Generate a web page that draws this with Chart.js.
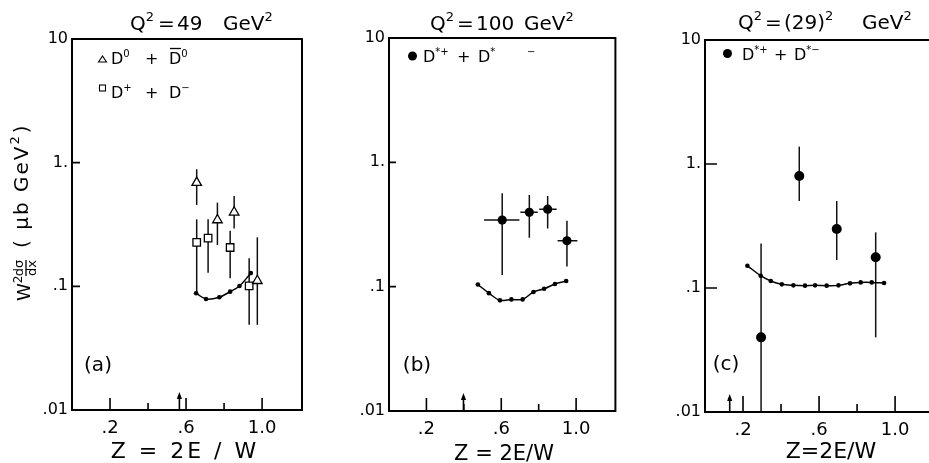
<!DOCTYPE html>
<html lang="en">
  <head>
    <meta charset="UTF-8" />
    <title>D meson cross sections vs Z</title>
    <style>
      * {
        margin: 0;
        padding: 0;
        box-sizing: border-box;
      }
      body {
        width: 929px;
        height: 463px;
        background: #fff;
        overflow: hidden;
        position: relative;
      }
      .panel {
        position: absolute;
        top: 0;
        height: 463px;
      }
    </style>
  </head>
  <body>
    <div class="panel" style="left: 0; width: 310px">
      <canvas id="chartA" width="310" height="463"></canvas>
    </div>
    <div class="panel" style="left: 310px; width: 310px">
      <canvas id="chartB" width="310" height="463"></canvas>
    </div>
    <div class="panel" style="left: 620px; width: 320px">
      <canvas id="chartC" width="320" height="463"></canvas>
    </div>

    <script src="https://cdn.jsdelivr.net/npm/chart.js"></script>

    <script>
      const FONT = '"DejaVu Sans", sans-serif';

      // axes
      const xTicks = [0.2, 0.4, 0.6, 0.8, 1.0];
      const xTickLabels = [".2", "", ".6", "", "1.0"];
      const yTicks = [0.01, 0.1, 1, 10];
      const yTickLabels = [".01", ".1", "1.", "10"];

      // (a) Q^2 = 49 GeV^2
      const zA_D0 = [0.656, 0.765, 0.853, 0.975];
      const yA_D0 = [0.69, 0.344, 0.397, 0.111];
      const yA_D0_lo = [0.455, 0.216, 0.294, 0.0488];
      const yA_D0_hi = [0.885, 0.475, 0.538, 0.249];
      const zA_Dp = [0.656, 0.716, 0.832, 0.932];
      const yA_Dp = [0.227, 0.245, 0.206, 0.101];
      const yA_Dp_lo = [0.088, 0.129, 0.116, 0.0488];
      const yA_Dp_hi = [0.348, 0.348, 0.282, 0.169];
      const zA_fit = [0.653, 0.705, 0.775, 0.832, 0.881, 0.941];
      const yA_fit = [0.088, 0.079, 0.0817, 0.0906, 0.1007, 0.128];

      // (b) Q^2 = 100 GeV^2
      const zB = [0.605, 0.75, 0.848, 0.951];
      const yB = [0.343, 0.396, 0.42, 0.234];
      const yB_lo = [0.124, 0.247, 0.294, 0.145];
      const yB_hi = [0.564, 0.546, 0.536, 0.339];
      const zB_lo = [0.508, 0.702, 0.803, 0.901];
      const zB_hi = [0.697, 0.795, 0.896, 1.007];
      const zB_fit = [0.475, 0.534, 0.593, 0.654, 0.714, 0.772, 0.829, 0.887, 0.947];
      const yB_fit = [0.104, 0.0887, 0.0776, 0.079, 0.079, 0.0906, 0.0962, 0.105, 0.111];

      // (c) Q^2 = (29)^2 GeV^2
      const zC = [0.295, 0.496, 0.693, 0.898];
      const yC = [0.04, 0.8, 0.299, 0.177];
      const yC_lo = [0.01, 0.503, 0.168, 0.04];
      const yC_hi = [0.229, 1.38, 0.503, 0.281];
      const zC_fit = [0.223, 0.293, 0.346, 0.404, 0.465, 0.526, 0.579, 0.64, 0.702, 0.763, 0.819, 0.877, 0.942];
      const yC_fit = [0.151, 0.1256, 0.1138, 0.107, 0.105, 0.1045, 0.105, 0.1045, 0.105, 0.109, 0.111, 0.111, 0.1097];

      // threshold arrows on the Z axis
      const arrowZ = [0.565, 0.398, 0.13];

      function pts(xs, ys) {
        return xs.map((x, i) => ({ x: x, y: ys[i] }));
      }

      // text run with superscripts; parts: {t, sup, at}
      function rich(ctx, x, y, parts, size) {
        ctx.textAlign = "left";
        ctx.textBaseline = "alphabetic";
        parts.forEach((p) => {
          if (p.at !== undefined) x = p.at;
          const s = p.sup ? Math.round(size * 0.64) : size;
          ctx.font = s + "px " + FONT;
          ctx.fillText(p.t, x, p.sup ? y - size * 0.45 : y);
          x += ctx.measureText(p.t).width + (p.sup ? 1 : 0);
        });
      }

      const errorBars = {
        id: "errorBars",
        beforeDatasetsDraw(chart) {
          const {
            ctx,
            scales: { x, y },
          } = chart;
          ctx.save();
          ctx.strokeStyle = "#111";
          ctx.lineWidth = 1.5;
          chart.data.datasets.forEach((ds) => {
            if (!ds.err) return;
            ds.data.forEach((p, i) => {
              const px = x.getPixelForValue(p.x);
              const py = y.getPixelForValue(p.y);
              ctx.beginPath();
              ctx.moveTo(px, y.getPixelForValue(ds.err.lo[i]));
              ctx.lineTo(px, y.getPixelForValue(ds.err.hi[i]));
              if (ds.err.xlo) {
                ctx.moveTo(x.getPixelForValue(ds.err.xlo[i]), py);
                ctx.lineTo(x.getPixelForValue(ds.err.xhi[i]), py);
              }
              ctx.stroke();
            });
          });
          ctx.restore();
        },
      };

      function decor(p) {
        return {
          id: "decor",
          afterDraw(chart) {
            const {
              ctx,
              chartArea: { left, right, top, bottom },
              scales: { x, y },
            } = chart;
            ctx.save();
            ctx.strokeStyle = "#000";
            ctx.fillStyle = "#000";
            ctx.lineWidth = 2;
            ctx.strokeRect(left, top, right - left, bottom - top);

            // inner tick marks
            ctx.lineWidth = 1.6;
            ctx.beginPath();
            [0.1, 1].forEach((v) => {
              const py = y.getPixelForValue(v);
              ctx.moveTo(left, py);
              ctx.lineTo(left + p.yTick, py);
            });
            xTicks.forEach((v, i) => {
              const px = x.getPixelForValue(v);
              const len = xTickLabels[i] ? p.xMajor : p.xMinor;
              ctx.moveTo(px, bottom);
              ctx.lineTo(px, bottom - len);
            });
            ctx.stroke();

            // arrow
            const ax = x.getPixelForValue(p.arrow);
            ctx.beginPath();
            ctx.moveTo(ax, bottom);
            ctx.lineTo(ax, bottom - 12);
            ctx.stroke();
            ctx.beginPath();
            ctx.moveTo(ax - 2.6, bottom - 11);
            ctx.lineTo(ax, bottom - 18);
            ctx.lineTo(ax + 2.6, bottom - 11);
            ctx.closePath();
            ctx.fill();

            // texts in page coordinates
            ctx.translate(-p.off, 0);
            p.text(ctx);
            ctx.restore();
          },
        };
      }

      function makeChart(id, datasets, p) {
        return new Chart(document.getElementById(id), {
          type: "scatter",
          data: { datasets: datasets },
          options: {
            responsive: false,
            animation: false,
            events: [],
            layout: { padding: p.pad },
            plugins: { legend: { display: false }, tooltip: { enabled: false } },
            scales: {
              x: {
                type: "linear",
                min: 0,
                max: 1.21,
                grid: { display: false, drawTicks: false },
                border: { display: false },
                afterBuildTicks: (scale) => {
                  scale.ticks = xTicks.map((v) => ({ value: v }));
                },
                afterFit: (scale) => {
                  scale.height = 30;
                },
                ticks: {
                  autoSkip: false,
                  maxRotation: 0,
                  padding: 8,
                  color: "#000",
                  font: { family: FONT, size: 18 },
                  callback: (v) => xTickLabels[xTicks.indexOf(v)] || "",
                },
              },
              y: {
                type: "logarithmic",
                min: 0.01,
                max: 10,
                grid: { display: false, drawTicks: false },
                border: { display: false },
                afterBuildTicks: (scale) => {
                  scale.ticks = yTicks.map((v) => ({ value: v }));
                },
                afterFit: (scale) => {
                  scale.width = 40;
                },
                ticks: {
                  autoSkip: false,
                  padding: 4,
                  color: "#000",
                  font: { family: FONT, size: 16 },
                  callback: (v) => yTickLabels[yTicks.indexOf(v)] || "",
                },
              },
            },
          },
          plugins: [errorBars, decor(p)],
        });
      }

      const fitStyle = {
        showLine: true,
        borderColor: "#000",
        borderWidth: 1.5,
        tension: 0.35,
        pointRadius: 2.3,
        pointBackgroundColor: "#000",
        pointBorderWidth: 0,
      };

      // (a)
      makeChart(
        "chartA",
        [
          {
            data: pts(zA_D0, yA_D0),
            err: { lo: yA_D0_lo, hi: yA_D0_hi },
            pointStyle: "triangle",
            pointRadius: 5.5,
            backgroundColor: "#fff",
            borderColor: "#000",
            borderWidth: 1.3,
          },
          {
            data: pts(zA_Dp, yA_Dp),
            err: { lo: yA_Dp_lo, hi: yA_Dp_hi },
            pointStyle: "rect",
            pointRadius: 5.3,
            backgroundColor: "#fff",
            borderColor: "#000",
            borderWidth: 1.3,
          },
          Object.assign({ data: pts(zA_fit, yA_fit) }, fitStyle),
        ],
        {
          off: 0,
          pad: { left: 32, right: 8, top: 39, bottom: 23 },
          yTick: 8,
          xMajor: 12,
          xMinor: 7,
          arrow: arrowZ[0],
          text: (ctx) => {
            rich(ctx, 130, 30, [
              { t: "Q" }, { t: "2", sup: 1 }, { t: "=", at: 158 }, { t: "49", at: 177 },
              { t: "GeV", at: 223 }, { t: "2", sup: 1 },
            ], 20);
            // legend
            ctx.lineWidth = 1.1;
            ctx.beginPath();
            ctx.moveTo(98.5, 62);
            ctx.lineTo(102.5, 56);
            ctx.lineTo(106.5, 62);
            ctx.closePath();
            ctx.stroke();
            ctx.strokeRect(99.5, 85, 6, 6);
            rich(ctx, 111, 64, [
              { t: "D" }, { t: "0", sup: 1 }, { t: "+", at: 145 }, { t: "D", at: 169 }, { t: "0", sup: 1 },
            ], 16);
            ctx.lineWidth = 1.3;
            ctx.beginPath();
            ctx.moveTo(170, 48.5);
            ctx.lineTo(181, 48.5);
            ctx.stroke();
            rich(ctx, 111, 98, [
              { t: "D" }, { t: "+", sup: 1 }, { t: "+", at: 145 }, { t: "D", at: 169 }, { t: "\u2212", sup: 1 },
            ], 16);
            // panel label
            ctx.font = "20px " + FONT;
            ctx.textAlign = "center";
            ctx.textBaseline = "middle";
            ctx.fillText("(a)", 98, 366);
            // x title
            ctx.font = "22px " + FONT;
            ctx.textBaseline = "alphabetic";
            ctx.letterSpacing = "3px";
            ctx.fillText("Z = 2E / W", 185, 458);
            ctx.letterSpacing = "0px";
            // y title, rotated
            ctx.save();
            ctx.translate(30, 300);
            ctx.rotate(-Math.PI / 2);
            rich(ctx, -1, 0, [{ t: "W" }, { t: "2", sup: 1 }], 18);
            ctx.textAlign = "center";
            ctx.font = "13px " + FONT;
            ctx.fillText("d\u03c3", 32, -7);
            ctx.fillText("dx", 32, 6);
            ctx.lineWidth = 1.3;
            ctx.beginPath();
            ctx.moveTo(24, -4);
            ctx.lineTo(40, -4);
            ctx.stroke();
            ctx.letterSpacing = "2px";
            rich(ctx, 52, -2, [{ t: "( \u03bcb GeV" }, { t: "2", sup: 1 }, { t: ")" }], 20);
            ctx.letterSpacing = "0px";
            ctx.restore();
          },
        }
      );

      // (b)
      makeChart(
        "chartB",
        [
          {
            data: pts(zB, yB),
            err: { lo: yB_lo, hi: yB_hi, xlo: zB_lo, xhi: zB_hi },
            pointStyle: "circle",
            pointRadius: 4.6,
            backgroundColor: "#000",
            borderWidth: 0,
          },
          Object.assign({ data: pts(zB_fit, yB_fit) }, fitStyle),
        ],
        {
          off: 310,
          pad: { left: 39, right: 3, top: 38, bottom: 22 },
          yTick: 7,
          xMajor: 13,
          xMinor: 7,
          arrow: arrowZ[1],
          text: (ctx) => {
            rich(ctx, 430, 30, [
              { t: "Q" }, { t: "2", sup: 1 }, { t: "=", at: 457 }, { t: "100", at: 476 },
              { t: "GeV", at: 524 }, { t: "2", sup: 1 },
            ], 20);
            ctx.beginPath();
            ctx.arc(412.5, 56, 4.5, 0, Math.PI * 2);
            ctx.fill();
            rich(ctx, 423, 62, [
              { t: "D" }, { t: "*+", sup: 1 }, { t: "+", at: 457 }, { t: "D", at: 478 },
              { t: "*", sup: 1 }, { t: "\u2212", sup: 1, at: 527 },
            ], 16);
            ctx.font = "20px " + FONT;
            ctx.textAlign = "center";
            ctx.textBaseline = "middle";
            ctx.fillText("(b)", 417, 366);
            ctx.font = "21px " + FONT;
            ctx.textBaseline = "alphabetic";
            ctx.fillText("Z = 2E/W", 504, 460);
          },
        }
      );

      // (c)
      makeChart(
        "chartC",
        [
          {
            data: pts(zC, yC),
            err: { lo: yC_lo, hi: yC_hi },
            pointStyle: "circle",
            pointRadius: 5,
            backgroundColor: "#000",
            borderWidth: 0,
          },
          Object.assign({ data: pts(zC_fit, yC_fit) }, fitStyle),
        ],
        {
          off: 620,
          pad: { left: 45, right: 5, top: 40, bottom: 21 },
          yTick: 12,
          xMajor: 16,
          xMinor: 8,
          arrow: arrowZ[2],
          text: (ctx) => {
            rich(ctx, 738, 29, [
              { t: "Q" }, { t: "2", sup: 1 }, { t: "=", at: 765 }, { t: "(29)", at: 784 },
              { t: "2", sup: 1 }, { t: "GeV", at: 862 }, { t: "2", sup: 1 },
            ], 20);
            ctx.beginPath();
            ctx.arc(727.5, 53.5, 4.5, 0, Math.PI * 2);
            ctx.fill();
            rich(ctx, 742, 60, [
              { t: "D" }, { t: "*+", sup: 1 }, { t: "+", at: 774 }, { t: "D", at: 794 }, { t: "*\u2212", sup: 1 },
            ], 16);
            ctx.font = "20px " + FONT;
            ctx.textAlign = "center";
            ctx.textBaseline = "middle";
            ctx.fillText("(c)", 726, 365);
            ctx.font = "22px " + FONT;
            ctx.textBaseline = "alphabetic";
            ctx.fillText("Z=2E/W", 831, 458);
          },
        }
      );
    </script>
  </body>
</html>
